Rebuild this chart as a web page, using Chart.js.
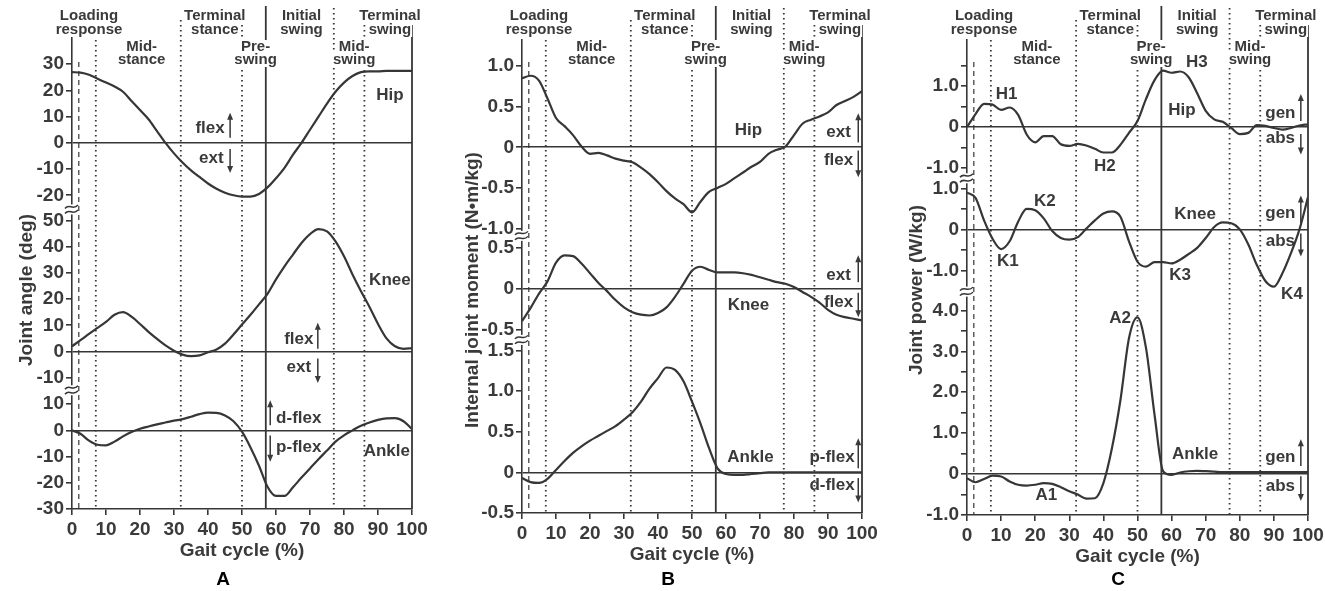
<!DOCTYPE html>
<html lang="en">
<head>
<meta charset="UTF-8">
<title>Gait cycle: joint angle, moment and power</title>
<style>
  body { margin: 0; background: #fff; }
  .panel { position: absolute; top: 0; height: 591px; }
</style>
</head>
<body>
<div class="panel" style="left:0;width:440px"><canvas id="chartA"></canvas></div>
<div class="panel" style="left:440px;width:440px"><canvas id="chartB"></canvas></div>
<div class="panel" style="left:880px;width:445px"><canvas id="chartC"></canvas></div>
<script src="https://cdn.jsdelivr.net/npm/chart.js@4.4.0/dist/chart.umd.min.js"></script>
<script>
// gait cycle samples (%)
const gait = [0, 2.5, 5, 7.5, 10, 12.5, 15, 17.5, 20, 22.5, 25, 27.5, 30, 32.5, 35, 37.5, 40, 42.5, 45, 47.5,
  50, 52.5, 55, 57.5, 60, 62.5, 65, 67.5, 70, 72.5, 75, 77.5, 80, 82.5, 85, 87.5, 90, 92.5, 95, 97.5, 100];

// A: joint angle (deg)
const angleHip = [27, 26.8, 26, 24.5, 23, 21.5, 19.5, 16, 12.5, 9, 4.5, 0, -4, -7.5, -10.5, -13, -15.5, -17.5, -19, -20,
  -20.5, -20.5, -19.5, -17, -13.5, -9.5, -4.5, 0, 5, 10, 15, 19.5, 23, 25.5, 27, 27.3, 27.3, 27.5, 27.5, 27.5, 27.5];
const angleKnee = [2, 4.3, 6.7, 9, 11.3, 14, 15, 13.3, 10.5, 7.5, 4.8, 2.3, 0.3, -1.2, -1.8, -1.5, -0.3, 0.8, 3, 6.5,
  10.3, 14, 18, 22, 27.5, 32.5, 37, 41.4, 44.8, 46.7, 45.8, 42, 36.3, 29.4, 23, 17, 10.5, 5, 2, 1, 1.3];
const angleAnkle = [0, -1.3, -3.9, -5.5, -5.7, -4.3, -2.3, -0.6, 0.6, 1.5, 2.3, 3, 3.7, 4.3, 5.2, 6.2, 6.8, 6.7, 5.7, 3.5,
  -0.5, -6.5, -13.5, -21.5, -25, -25, -21.7, -18, -14.5, -11, -7.7, -4.3, -1.9, 0, 1.8, 3, 4, 4.6, 4.7, 3.5, 0.5];

// B: internal joint moment (N·m/kg)
const momentHip = [0.85, 0.88, 0.82, 0.6, 0.36, 0.26, 0.15, 0.01, -0.08, -0.07, -0.1, -0.14, -0.165, -0.185, -0.25, -0.33, -0.43, -0.54, -0.63, -0.7,
  -0.8, -0.67, -0.55, -0.5, -0.45, -0.38, -0.31, -0.24, -0.18, -0.08, -0.03, 0.01, 0.15, 0.29, 0.34, 0.38, 0.43, 0.52, 0.57, 0.62, 0.69];
const momentKnee = [-0.4, -0.24, -0.06, 0.09, 0.32, 0.41, 0.4, 0.31, 0.19, 0.07, -0.03, -0.14, -0.23, -0.29, -0.32, -0.33, -0.3, -0.23, -0.1, 0.06,
  0.22, 0.27, 0.23, 0.2, 0.2, 0.2, 0.19, 0.17, 0.14, 0.11, 0.08, 0.06, 0.02, -0.04, -0.1, -0.17, -0.26, -0.32, -0.35, -0.37, -0.39];
const momentAnkle = [-0.07, -0.12, -0.13, -0.08, 0.03, 0.14, 0.24, 0.32, 0.39, 0.45, 0.51, 0.57, 0.65, 0.74, 0.87, 1.03, 1.16, 1.29, 1.26, 1.12,
  0.87, 0.6, 0.3, 0.05, -0.02, -0.03, -0.03, -0.02, -0.01, 0, 0, 0, 0, 0, 0, 0, 0, 0, 0, 0, 0];

// C: joint power (W/kg)
const powerHip = [0, 0.32, 0.57, 0.55, 0.42, 0.48, 0.3, -0.18, -0.37, -0.22, -0.22, -0.42, -0.46, -0.41, -0.45, -0.53, -0.62, -0.62, -0.43, -0.14,
  0.15, 0.69, 1.15, 1.38, 1.33, 1.36, 1.22, 0.83, 0.4, 0.19, 0.13, -0.02, -0.17, -0.14, 0.05, 0.03, -0.02, -0.06, -0.02, 0.04, 0.07];
const powerKnee = [0.9, 0.77, 0.22, -0.23, -0.48, -0.29, 0.19, 0.5, 0.47, 0.27, -0.04, -0.21, -0.25, -0.19, 0.02, 0.22, 0.39, 0.44, 0.31, -0.29,
  -0.79, -0.91, -0.8, -0.8, -0.83, -0.74, -0.6, -0.45, -0.21, 0.06, 0.17, 0.15, 0, -0.37, -0.87, -1.26, -1.4, -1.07, -0.58, 0, 0.79];
const powerAnkle = [-0.1, -0.2, -0.12, -0.04, -0.06, -0.18, -0.26, -0.28, -0.26, -0.22, -0.24, -0.32, -0.42, -0.5, -0.6, -0.59, -0.22, 0.63, 1.81, 3.32,
  3.83, 3.08, 1.45, 0.07, -0.02, 0.04, 0.07, 0.08, 0.07, 0.06, 0.05, 0.05, 0.05, 0.05, 0.05, 0.05, 0.05, 0.05, 0.05, 0.05, 0.05];

// tick values and labels
const xTicks = [0, 10, 20, 30, 40, 50, 60, 70, 80, 90, 100];
const xTickLabels = ['0', '10', '20', '30', '40', '50', '60', '70', '80', '90', '100'];
const angleHipTicks = [30, 20, 10, 0, -10, -20];
const angleHipLabels = ['30', '20', '10', '0', '-10', '-20'];
const angleKneeTicks = [50, 40, 30, 20, 10, 0, -10];
const angleKneeLabels = ['50', '40', '30', '20', '10', '0', '-10'];
const angleAnkleTicks = [10, 0, -10, -20, -30];
const angleAnkleLabels = ['10', '0', '-10', '-20', '-30'];
const momentHipTicks = [1, 0.5, 0, -0.5, -1];
const momentHipLabels = ['1.0', '0.5', '0', '-0.5', '-1.0'];
const momentKneeTicks = [0.5, 0, -0.5];
const momentKneeLabels = ['0.5', '0', '-0.5'];
const momentAnkleTicks = [1.5, 1, 0.5, 0, -0.5];
const momentAnkleLabels = ['1.5', '1.0', '0.5', '0', '-0.5'];
const powerHipTicks = [1.5, 1, 0.5, 0, -0.5, -1];
const powerHipLabels = ['', '1.0', '', '0', '', '-1.0'];
const powerKneeTicks = [1, 0.5, 0, -0.5, -1];
const powerKneeLabels = ['1.0', '', '0', '', '-1.0'];
const powerAnkleTicks = [4, 3.5, 3, 2.5, 2, 1.5, 1, 0.5, 0, -0.5, -1];
const powerAnkleLabels = ['4.0', '', '3.0', '', '2.0', '', '1.0', '', '0', '', '-1.0'];

// gait phases
const phaseLines = [2, 7, 32, 50, 57, 77, 86];
const phaseNames = [['Loading', 'response'], ['Mid-', 'stance'], ['Terminal', 'stance'], ['Pre-', 'swing'],
  ['Initial', 'swing'], ['Mid-', 'swing'], ['Terminal', 'swing']];
const phaseCenters = [5, 20.5, 42, 54, 67.5, 83, 93.5];

// curve labels (gait %, value on that joint's axis)
const notesA = [
  { t: 'Hip', x: 93.5, y: 18, ax: 'hip' }, { t: 'flex', x: 40.6, y: 5.4, ax: 'hip' }, { t: 'ext', x: 41, y: -5.8, ax: 'hip' },
  { t: 'Knee', x: 93.5, y: 27, ax: 'knee' }, { t: 'flex', x: 66.7, y: 4.5, ax: 'knee' }, { t: 'ext', x: 66.7, y: -6, ax: 'knee' },
  { t: 'd-flex', x: 66.7, y: 4.6, ax: 'ankle' }, { t: 'p-flex', x: 66.7, y: -6.5, ax: 'ankle' }, { t: 'Ankle', x: 92.6, y: -8, ax: 'ankle' }
];
const arrowsA = [
  { x: 46.5, from: 2, to: 11.5, ax: 'hip' }, { x: 46.5, from: -2.3, to: -11.5, ax: 'hip' },
  { x: 72.3, from: 1, to: 11, ax: 'knee' }, { x: 72.3, from: -2.7, to: -12, ax: 'knee' },
  { x: 58.3, from: 2, to: 11.5, ax: 'ankle' }, { x: 58.3, from: -2, to: -12, ax: 'ankle' }
];
const notesB = [
  { t: 'Hip', x: 66.6, y: 0.21, ax: 'hip' }, { t: 'ext', x: 93.1, y: 0.19, ax: 'hip' }, { t: 'flex', x: 93.1, y: -0.16, ax: 'hip' },
  { t: 'ext', x: 93.1, y: 0.17, ax: 'knee' }, { t: 'flex', x: 93.1, y: -0.17, ax: 'knee' }, { t: 'Knee', x: 66.6, y: -0.21, ax: 'knee' },
  { t: 'Ankle', x: 67.2, y: 0.18, ax: 'ankle' }, { t: 'p-flex', x: 91.2, y: 0.18, ax: 'ankle' }, { t: 'd-flex', x: 91.2, y: -0.16, ax: 'ankle' }
];
const arrowsB = [
  { x: 98.9, from: 0.06, to: 0.42, ax: 'hip' }, { x: 98.9, from: -0.04, to: -0.37, ax: 'hip' },
  { x: 98.9, from: 0.08, to: 0.41, ax: 'knee' }, { x: 98.9, from: -0.05, to: -0.35, ax: 'knee' },
  { x: 98.9, from: 0.05, to: 0.42, ax: 'ankle' }, { x: 98.9, from: -0.07, to: -0.37, ax: 'ankle' }
];
const notesC = [
  { t: 'H1', x: 11.6, y: 0.81, ax: 'hip' }, { t: 'H2', x: 40.4, y: -0.96, ax: 'hip' }, { t: 'H3', x: 67.4, y: 1.58, ax: 'hip' },
  { t: 'Hip', x: 63, y: 0.4, ax: 'hip' }, { t: 'gen', x: 91.9, y: 0.35, ax: 'hip' }, { t: 'abs', x: 91.9, y: -0.27, ax: 'hip' },
  { t: 'K1', x: 12, y: -0.79, ax: 'knee' }, { t: 'K2', x: 22.8, y: 0.69, ax: 'knee' }, { t: 'K3', x: 62.5, y: -1.11, ax: 'knee' },
  { t: 'K4', x: 95.3, y: -1.58, ax: 'knee' }, { t: 'Knee', x: 66.9, y: 0.37, ax: 'knee' },
  { t: 'gen', x: 91.9, y: 0.39, ax: 'knee' }, { t: 'abs', x: 91.9, y: -0.3, ax: 'knee' },
  { t: 'A2', x: 44.9, y: 3.8, ax: 'ankle' }, { t: 'A1', x: 23.3, y: -0.51, ax: 'ankle' }, { t: 'Ankle', x: 66.9, y: 0.49, ax: 'ankle' },
  { t: 'gen', x: 91.9, y: 0.41, ax: 'ankle' }, { t: 'abs', x: 91.9, y: -0.29, ax: 'ankle' }
];
const arrowsC = [
  { x: 97.9, from: 0.15, to: 0.81, ax: 'hip' }, { x: 97.9, from: -0.17, to: -0.67, ax: 'hip' },
  { x: 97.9, from: 0.15, to: 0.83, ax: 'knee' }, { x: 97.9, from: -0.1, to: -0.66, ax: 'knee' },
  { x: 97.9, from: 0.2, to: 0.85, ax: 'ankle' }, { x: 97.9, from: -0.05, to: -0.66, ax: 'ankle' }
];

const LINE = '#363636';
const TEXT = '#3a3a3a';
const FONT = "'Liberation Sans', Arial, Helvetica, sans-serif";
Chart.defaults.font.family = FONT;
Chart.defaults.color = TEXT;

// top end (px) and stroke of each phase line
const lineLook = [
  { top: 62, dash: [5, 4], width: 1.2 },
  { top: 20, dash: [1.6, 3.4], width: 1.8 },
  { top: 20, dash: [1.6, 3.4], width: 1.8 },
  { top: 20, dash: [1.6, 3.4], width: 1.8 },
  { top: 6, dash: [], width: 1.8 },
  { top: 8, dash: [1.6, 3.4], width: 1.8 },
  { top: 20, dash: [1.6, 3.4], width: 1.8 }
];

function yAxis(min, max, ticks, labels, axisW) {
  return {
    type: 'linear', position: 'left', stack: 'joints', stackWeight: max - min, min, max,
    afterBuildTicks: a => { a.ticks = ticks.map(v => ({ value: v })); },
    afterFit: a => { a.width = axisW; a.paddingTop = 0; a.paddingBottom = 0; },
    ticks: { autoSkip: false, padding: 2, color: TEXT, font: { size: 19, weight: 'bold' },
      callback: (v, i) => labels[i] },
    grid: {
      drawOnChartArea: true, tickLength: 6, lineWidth: 1.6, tickColor: LINE,
      color: c => (c.tick && c.tick.value === 0) ? LINE : 'rgba(0,0,0,0)'
    },
    border: { display: true, color: LINE, width: 1.6 }
  };
}

// small double wave that marks a broken axis
function breakMark(ctx, x, y) {
  ctx.fillStyle = '#fff';
  ctx.fillRect(x - 3, y - 5, 6, 10);
  ctx.strokeStyle = LINE;
  ctx.lineWidth = 1.5;
  [-2.5, 2.5].forEach(dy => {
    ctx.beginPath();
    ctx.moveTo(x - 7, y + dy + 1.5);
    ctx.bezierCurveTo(x - 3, y + dy - 4, x + 1, y + dy + 4, x + 6, y + dy - 2);
    ctx.stroke();
  });
}

function decor(p) {
  return {
    id: 'decor',
    beforeDatasetsDraw(chart) {
      const { ctx, chartArea, scales } = chart;
      const x = scales.x;
      ctx.save();
      ctx.strokeStyle = LINE;
      phaseLines.forEach((g, i) => {
        const look = lineLook[i];
        const px = x.getPixelForValue(g);
        ctx.beginPath();
        ctx.lineWidth = look.width;
        ctx.setLineDash(look.dash);
        ctx.moveTo(px, look.top);
        ctx.lineTo(px, chartArea.bottom);
        ctx.stroke();
      });
      ctx.setLineDash([]);
      ctx.lineWidth = 1.8;
      const rx = x.getPixelForValue(100);
      ctx.beginPath();
      ctx.moveTo(rx, 25);
      ctx.lineTo(rx, chartArea.bottom);
      ctx.stroke();

      ctx.font = 'bold 15px ' + FONT;
      ctx.textAlign = 'center';
      ctx.textBaseline = 'middle';
      phaseNames.forEach((rows, i) => {
        const cx = x.getPixelForValue(phaseCenters[i]);
        const ys = i % 2 === 0 ? [16, 30] : [47, 60];
        rows.forEach((t, k) => {
          const w = ctx.measureText(t).width;
          ctx.fillStyle = '#fff';
          ctx.fillRect(cx - w / 2 - 1, ys[k] - 7, w + 2, 14);
          ctx.fillStyle = TEXT;
          ctx.fillText(t, cx, ys[k]);
        });
      });
      ctx.restore();
    },
    afterDatasetsDraw(chart) {
      const { ctx, scales } = chart;
      const x = scales.x;
      ctx.save();
      ctx.fillStyle = TEXT;
      ctx.strokeStyle = LINE;
      ctx.font = 'bold 17px ' + FONT;
      ctx.textAlign = 'center';
      ctx.textBaseline = 'middle';
      p.notes.forEach(n => {
        ctx.fillText(n.t, x.getPixelForValue(n.x), scales[n.ax].getPixelForValue(n.y));
      });
      ctx.lineWidth = 1.5;
      p.arrows.forEach(a => {
        const px = x.getPixelForValue(a.x);
        const y0 = scales[a.ax].getPixelForValue(a.from);
        const y1 = scales[a.ax].getPixelForValue(a.to);
        const d = y1 > y0 ? 1 : -1;
        ctx.beginPath();
        ctx.moveTo(px, y0);
        ctx.lineTo(px, y1 - d * 4);
        ctx.stroke();
        ctx.beginPath();
        ctx.moveTo(px, y1);
        ctx.lineTo(px - 3, y1 - d * 7);
        ctx.lineTo(px + 3, y1 - d * 7);
        ctx.closePath();
        ctx.fill();
      });
      ctx.restore();
    },
    afterDraw(chart) {
      const { ctx, chartArea, scales } = chart;
      ctx.save();
      ['knee', 'ankle'].forEach(id => breakMark(ctx, chartArea.left, scales[id].top));
      // y title
      ctx.textAlign = 'center';
      ctx.textBaseline = 'middle';
      ctx.fillStyle = TEXT;
      ctx.font = 'bold 19px ' + FONT;
      ctx.translate(p.titleX, 290);
      ctx.rotate(-Math.PI / 2);
      ctx.fillText(p.title, 0, 0);
      ctx.restore();
      ctx.save();
      ctx.fillStyle = '#000';
      ctx.font = 'bold 19px ' + FONT;
      ctx.textAlign = 'center';
      ctx.textBaseline = 'middle';
      ctx.fillText(p.letter, p.letterX, 580);
      ctx.restore();
    }
  };
}

function makeChart(id, p) {
  const sets = [['hip', p.hip], ['knee', p.knee], ['ankle', p.ankle]].map(([ax, vals]) => ({
    data: gait.map((g, i) => ({ x: g, y: vals[i] })),
    yAxisID: ax,
    borderColor: LINE,
    borderWidth: 2.2,
    pointRadius: 0,
    fill: false,
    cubicInterpolationMode: 'monotone'
  }));
  return new Chart(document.getElementById(id), {
    type: 'line',
    data: { datasets: sets },
    options: {
      responsive: true,
      maintainAspectRatio: false,
      animation: false,
      layout: { padding: p.padding },
      plugins: { legend: { display: false }, tooltip: { enabled: false } },
      scales: {
        x: {
          type: 'linear', min: 0, max: 100,
          afterBuildTicks: a => { a.ticks = xTicks.map(v => ({ value: v })); },
          afterFit: a => { a.height = 57; a.paddingLeft = 0; a.paddingRight = 0; },
          ticks: { autoSkip: false, maxRotation: 0, padding: 3, color: TEXT, font: { size: 19, weight: 'bold' },
            callback: (v, i) => xTickLabels[i] },
          grid: { drawOnChartArea: false, tickLength: 6, lineWidth: 1.6, tickColor: LINE },
          border: { color: LINE, width: 1.6 },
          title: { display: true, text: 'Gait cycle (%)', color: TEXT, font: { size: 19, weight: 'bold' },
            padding: { top: 0, bottom: 4 } }
        },
        ankle: yAxis(p.ankleRange[0], p.ankleRange[1], p.ankleTicks, p.ankleLabels, p.axisW),
        knee: yAxis(p.kneeRange[0], p.kneeRange[1], p.kneeTicks, p.kneeLabels, p.axisW),
        hip: yAxis(p.hipRange[0], p.hipRange[1], p.hipTicks, p.hipLabels, p.axisW)
      }
    },
    plugins: [decor(p)]
  });
}

makeChart('chartA', {
  hip: angleHip, knee: angleKnee, ankle: angleAnkle,
  hipRange: [-25.4, 40.4], kneeRange: [-14.8, 54.2], ankleRange: [-30, 15.3],
  hipTicks: angleHipTicks, hipLabels: angleHipLabels,
  kneeTicks: angleKneeTicks, kneeLabels: angleKneeLabels,
  ankleTicks: angleAnkleTicks, ankleLabels: angleAnkleLabels,
  notes: notesA, arrows: arrowsA,
  title: 'Joint angle (deg)', titleX: 27, letter: 'A', letterX: 223,
  axisW: 72, padding: { left: 0, right: 28, top: 37, bottom: 25 }
});

makeChart('chartB', {
  hip: momentHip, knee: momentKnee, ankle: momentAnkle,
  hipRange: [-1.09, 1.32], kneeRange: [-0.63, 0.65], ankleRange: [-0.5, 1.63],
  hipTicks: momentHipTicks, hipLabels: momentHipLabels,
  kneeTicks: momentKneeTicks, kneeLabels: momentKneeLabels,
  ankleTicks: momentAnkleTicks, ankleLabels: momentAnkleLabels,
  notes: notesB, arrows: arrowsB,
  title: 'Internal joint moment (N\u2022m/kg)', titleX: 33, letter: 'B', letterX: 228,
  axisW: 82, padding: { left: 0, right: 18, top: 40, bottom: 21 }
});

makeChart('chartC', {
  hip: powerHip, knee: powerKnee, ankle: powerAnkle,
  hipRange: [-1.25, 2.13], kneeRange: [-1.52, 1.25], ankleRange: [-1, 4.46],
  hipTicks: powerHipTicks, hipLabels: powerHipLabels,
  kneeTicks: powerKneeTicks, kneeLabels: powerKneeLabels,
  ankleTicks: powerAnkleTicks, ankleLabels: powerAnkleLabels,
  notes: notesC, arrows: arrowsC,
  title: 'Joint power (W/kg)', titleX: 37, letter: 'C', letterX: 238,
  axisW: 87, padding: { left: 0, right: 17, top: 40, bottom: 19 }
});
</script>
</body>
</html>
